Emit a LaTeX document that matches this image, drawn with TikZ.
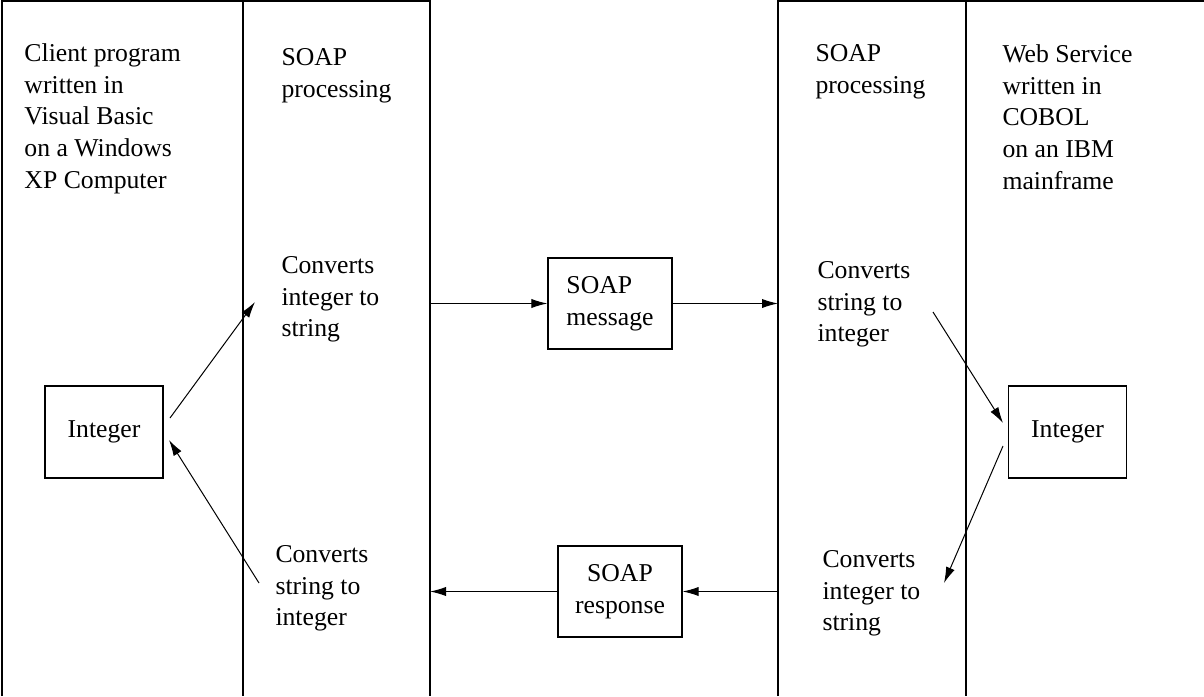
\documentclass[tikz,border=0pt]{standalone}
\usepackage{fontspec}
\setmainfont{Liberation Serif}
\usetikzlibrary{arrows.meta}

\tikzset{every picture/.style={line width=0.5pt}}
\tikzset{
  col/.style={line width=0.9pt},
  lbl/.style={anchor=north west,inner sep=0pt,align=left,font=\fontsize{12.85}{15.85}\selectfont},
  box/.style={draw,line width=0.6pt,minimum width=59pt,minimum height=46pt,inner sep=0pt,font=\fontsize{12.85}{15.85}\selectfont},
  arr/.style={-{Latex[length=8pt,width=4.6pt]}}
}

\begin{document}
\begin{tikzpicture}[x=0.5pt,y=0.5pt,yscale=-1,xscale=1]
	\useasboundingbox (0,0) rectangle (1204,696);

	%Columns, client side
	\draw [col] (2,696) -- (2,1) -- (430,1) -- (430,696) ;
	\draw [col] (243,1) -- (243,696) ;
	%Columns, service side
	\draw [col] (778,696) -- (778,1) -- (1204,1) ;
	\draw [col] (966,1) -- (966,696) ;

	% Text Node
	\node [lbl] (client) at (24,43) {Client program\\written in\\Visual Basic\\on a Windows\\XP Computer};
	% Text Node
	\node [lbl] (procL) at (281,48) {SOAP\\processing};
	% Text Node
	\node [lbl] (procR) at (815,44) {SOAP\\processing};
	% Text Node
	\node [lbl] (service) at (1002,44) {Web Service\\written in\\COBOL\\on an IBM\\mainframe};

	% Text Node
	\node [lbl] (toStrL) at (281,256) {Converts\\integer to\\string};
	% Text Node
	\node [lbl] (toIntR) at (817,261) {Converts\\string to\\integer};
	% Text Node
	\node [lbl] (toIntL) at (275,545) {Converts\\string to\\integer};
	% Text Node
	\node [lbl] (toStrR) at (822,550) {Converts\\integer to\\string};

	%Boxes
	\node [box] (intL) at (104,432) {Integer};
	\node [box] (intR) at (1067.5,432) {Integer};
	\node [box,minimum width=62pt,minimum height=45.5pt,align=left] (msg) at (610,303.5) {SOAP\\message};
	\node [box,minimum width=62pt,minimum height=45.5pt,align=center] (resp) at (620,591.5) {SOAP\\response};

	%Arrow ends
	\coordinate (msgIn) at (430,303.5);
	\coordinate (msgOut) at (778,303.5);
	\coordinate (respIn) at (778,591.5);
	\coordinate (respOut) at (430,591.5);
	\coordinate (a1) at (170,418);
	\coordinate (a2) at (255,302);
	\coordinate (b1) at (259,583);
	\coordinate (b2) at (169,440);
	\coordinate (c1) at (933,312);
	\coordinate (c2) at (1003,423);
	\coordinate (d1) at (1003,446);
	\coordinate (d2) at (944,583);

	%Arrows
	\draw [arr] (msgIn) -- (msg) ;
	\draw [arr] (msg) -- (msgOut) ;
	\draw [arr] (respIn) -- (resp) ;
	\draw [arr] (resp) -- (respOut) ;
	\draw [arr] (a1) -- (a2) ;
	\draw [arr] (b1) -- (b2) ;
	\draw [arr] (c1) -- (c2) ;
	\draw [arr] (d1) -- (d2) ;

\end{tikzpicture}
\end{document}
